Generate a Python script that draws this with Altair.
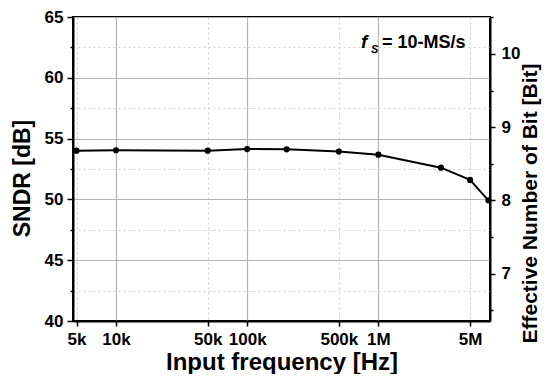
import altair as alt
import pandas as pd

# ---- data ----
freq_hz = [5e3, 1e4, 5e4, 1e5, 2e5, 5e5, 1e6, 3e6, 5e6, 6.9e6]
sndr_db = [54.01, 54.04, 54.01, 54.14, 54.12, 53.93, 53.68, 52.61, 51.60, 49.92]

x_tick_values = [5e3, 1e4, 5e4, 1e5, 5e5, 1e6, 5e6]
y_tick_values = [40, 42.5, 45, 47.5, 50, 52.5, 55, 57.5, 60, 62.5, 65]
enob_tick_values = [6.5, 7, 7.5, 8, 8.5, 9, 9.5, 10, 10.5]

X_DOMAIN = [4700, 7.1e6]
Y_DOMAIN = [40, 65]
ENOB_DOMAIN = [(v - 1.76) / 6.02 for v in Y_DOMAIN]

# annotation "f_S = 10-MS/s" (data coordinates)
ann_text = ["f", "S", "= 10-MS/s"]
ann_freq = [7.38e5, 8.79e5, 1.067e6]
ann_sndr = [62.45, 62.0, 62.45]

FONT = "Liberation Sans"

df = pd.DataFrame({"freq": freq_hz, "sndr": sndr_db})
df["enob"] = (df["sndr"] - 1.76) / 6.02
ann_df = pd.DataFrame({"freq": ann_freq, "sndr": ann_sndr, "txt": ann_text})

MINOR_X = "abs(log(datum.value)/LN10 - round(log(datum.value)/LN10)) > 0.01"

x_enc = alt.X(
    "freq:Q",
    scale=alt.Scale(type="log", domain=X_DOMAIN, nice=False),
    axis=alt.Axis(
        values=x_tick_values,
        labelExpr="datum.value >= 1000000 ? (datum.value/1000000) + 'M' : (datum.value/1000) + 'k'",
        title="Input frequency [Hz]",
        titleFontSize=24,
        titleY=48,
        titleBaseline="alphabetic",
        labelFontSize=17,
        tickSize=5,
        labelPadding=5,
        labelFlush=False,
        grid=True,
        gridColor={"condition": {"test": MINOR_X, "value": "#cfcfcf"}, "value": "#b4b4b4"},
        gridDash={"condition": {"test": MINOR_X, "value": [2, 3]}, "value": []},
        gridWidth=1.2,
    ),
)

y_enc = alt.Y(
    "sndr:Q",
    scale=alt.Scale(domain=Y_DOMAIN, nice=False, zero=False),
    axis=alt.Axis(
        values=y_tick_values,
        labelExpr="datum.value % 5 == 0 ? datum.label : ''",
        title="SNDR [dB]",
        titleFontSize=23,
        titleAngle=270,
        titleX=-44,
        titleY=161,
        titleBaseline="alphabetic",
        labelFontSize=17,
        tickSize={"condition": {"test": "datum.value % 5 == 0", "value": 6}, "value": 3},
        labelPadding=4,
        grid=True,
        gridColor={"condition": {"test": "datum.value % 5 != 0", "value": "#cfcfcf"}, "value": "#b4b4b4"},
        gridDash={"condition": {"test": "datum.value % 5 != 0", "value": [2, 3]}, "value": []},
        gridWidth=1.2,
    ),
)

base = alt.Chart(df)
line = base.mark_line(color="black", strokeWidth=2).encode(x=x_enc, y=y_enc)
pts = base.mark_point(filled=True, color="black", size=38, opacity=1).encode(x=x_enc, y=y_enc)

ann_f = alt.Chart(ann_df.iloc[[0]]).mark_text(
    font=FONT, fontSize=19, fontWeight="bold", fontStyle="italic",
    align="left", baseline="alphabetic", color="black",
).encode(x=x_enc, y=y_enc, text="txt:N")
ann_s = alt.Chart(ann_df.iloc[[1]]).mark_text(
    font=FONT, fontSize=11, fontWeight="bold", fontStyle="italic",
    align="left", baseline="alphabetic", color="black",
).encode(x=x_enc, y=y_enc, text="txt:N")
ann_main = alt.Chart(ann_df.iloc[[2]]).mark_text(
    font=FONT, fontSize=18, fontWeight="bold",
    align="left", baseline="alphabetic", color="black",
).encode(x=x_enc, y=y_enc, text="txt:N")

left = alt.layer(line, pts, ann_f, ann_s, ann_main)

right = base.mark_point(opacity=0).encode(
    x=x_enc,
    y=alt.Y(
        "enob:Q",
        scale=alt.Scale(domain=ENOB_DOMAIN, nice=False, zero=False),
        axis=alt.Axis(
            orient="right",
            values=enob_tick_values,
            labelExpr="datum.value % 1 == 0 ? format(datum.value, 'd') : ''",
            title="Effective Number of Bit [Bit]",
            titleFontSize=21,
            titleAngle=270,
            titleX=46,
            titleY=186,
            titleBaseline="alphabetic",
            labelFontSize=17,
            tickSize={"condition": {"test": "datum.value % 1 == 0", "value": 5}, "value": 3},
            labelPadding=6,
            grid=False,
        ),
    ),
)

chart = (
    alt.layer(left, right)
    .resolve_scale(y="independent")
    .properties(
        width=417,
        height=304,
        autosize=alt.AutoSizeParams(type="none"),
        padding={"left": 65, "top": 9, "right": 52, "bottom": 53},
    )
    .configure_view(stroke="black", strokeWidth=2)
    .configure_axis(
        labelFont=FONT,
        labelFontWeight="bold",
        labelColor="black",
        titleFont=FONT,
        titleFontWeight="bold",
        titleColor="black",
        domainColor="black",
        domainWidth=2,
        tickColor="black",
        tickWidth=1.5,
    )
)

chart.save("out.html", embed_options={"renderer": "svg", "actions": False})
